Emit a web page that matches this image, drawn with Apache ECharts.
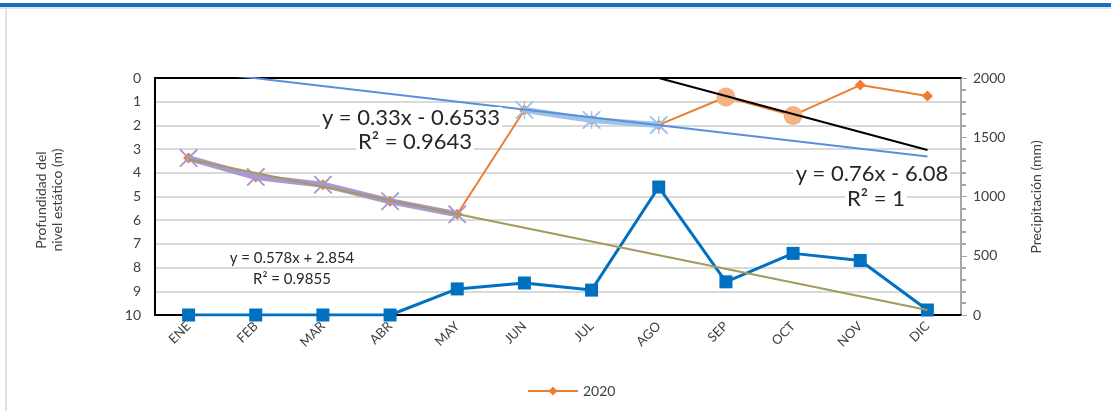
<!DOCTYPE html>
<html><head><meta charset="utf-8">
<script src="https://cdn.jsdelivr.net/npm/echarts@6/dist/echarts.min.js"></script>
<style>html,body{margin:0;padding:0;background:#fff;}#c{width:1111px;height:411px;}</style>
</head><body><div id="c"></div>
<script>
const months = ['ENE','FEB','MAR','ABR','MAY','JUN','JUL','AGO','SEP','OCT','NOV','DIC'];
const depth2020 = [3.38, 4.18, 4.5, 5.2, 5.75, 1.35, 1.77, 1.98, 0.8, 1.58, 0.3, 0.76];
const dryPart = [3.38, 4.18, 4.5, 5.2, 5.75, null, null, null, null, null, null, null];
const wetPart = [null, null, null, null, null, 1.35, 1.77, 1.98, null, null, null, null];
const latePart = [null, null, null, null, null, null, null, null, 0.8, 1.58, null, null];
const precip = [0, 0, 0, 0, 220, 270, 210, 1080, 280, 520, 460, 42];
const trendDry = [['ENE', 3.43], ['DIC', 9.79]];
const trendWet = [['ENE', -0.32], ['DIC', 3.31]];
const trendLate = [['AGO', 0.0], ['DIC', 3.04]];
const depthTicks = [0,1,2,3,4,5,6,7,8,9,10];
const precipTicks = [0,500,1000,1500,2000];

const F = 'Lato, "Open Sans", sans-serif';
const xPath = 'path://M0,0 L1.5,0 L10,8.5 L18.5,0 L20,0 L20,1.5 L11.5,10 L20,18.5 L20,20 L18.5,20 L10,11.5 L1.5,20 L0,20 L0,18.5 L8.5,10 L0,1.5 Z';
const starPath = xPath.replace(' Z', ' Z M9.3,0 L10.7,0 L10.7,20 L9.3,20 Z');
const eq = (x, y, t, fs) => ({type: 'text', x: x, y: y, z: 100,
  style: {text: t, fontSize: fs, fontFamily: F, fill: '#262626', textAlign: 'center',
    textVerticalAlign: 'middle', backgroundColor: '#fff', padding: [0, 2]}});

const chart = echarts.init(document.getElementById('c'), null, {renderer: 'canvas'});
chart.setOption({
  animation: false,
  backgroundColor: '#fff',
  textStyle: {fontFamily: F},
  grid: {left: 155, right: 150, top: 78, bottom: 96},
  legend: {
    data: ['2020'], left: 522, top: 379, itemWidth: 50, itemHeight: 11, itemGap: 5,
    textStyle: {fontFamily: F, fontSize: 14, color: '#404040'},
    itemStyle: {color: '#ed7d31'}
  },
  xAxis: [{
    type: 'category', data: months, boundaryGap: true,
    axisLine: {lineStyle: {color: '#000', width: 2}},
    axisTick: {show: false},
    axisLabel: {rotate: 45, fontSize: 13, color: '#404040', fontFamily: F, margin: 9}
  }, {
    type: 'category', data: months, position: 'top', boundaryGap: true,
    axisLine: {lineStyle: {color: '#000', width: 2}},
    axisTick: {show: false}, axisLabel: {show: false}
  }],
  yAxis: [{
    type: 'value', inverse: true, min: 0, max: 10, interval: 1,
    axisLine: {show: true, lineStyle: {color: '#000', width: 2}},
    axisTick: {show: false},
    axisLabel: {fontSize: 14, color: '#404040', fontFamily: F, margin: 14,
      formatter: v => depthTicks.includes(v) ? String(v) : ''},
    splitLine: {lineStyle: {color: '#d9d9d9', width: 2}}
  }, {
    type: 'value', min: 0, max: 2000, interval: 500, position: 'right',
    axisLine: {show: true, lineStyle: {color: '#a6a6a6', width: 2}},
    axisTick: {show: true, length: 6, inside: false, lineStyle: {color: '#a6a6a6'}},
    minorTick: {show: true, splitNumber: 5, length: 5, lineStyle: {color: '#a6a6a6', width: 2}},
    axisLabel: {fontSize: 14, color: '#404040', fontFamily: F, margin: 12,
      formatter: v => precipTicks.includes(v) ? String(v) : ''},
    splitLine: {show: false}
  }],
  series: [
    {name: 'Precipitación', type: 'line', yAxisIndex: 1, data: precip, z: 2,
      symbol: 'rect', symbolSize: 13, lineStyle: {color: '#0070c0', width: 3},
      itemStyle: {color: '#0070c0'}},
    {name: '2020', type: 'line', yAxisIndex: 0, data: depth2020, z: 3,
      symbol: 'diamond', symbolSize: 11, lineStyle: {color: '#ed7d31', width: 2},
      itemStyle: {color: '#ed7d31'}},
    {name: 'seco', type: 'line', data: dryPart, z: 4, symbol: xPath, symbolSize: 18,
      lineStyle: {color: '#a999d1', width: 6}, itemStyle: {color: '#a999d1'}},
    {name: 'lluvia', type: 'line', data: wetPart, z: 4, symbol: starPath, symbolSize: 18,
      lineStyle: {color: '#9dc3e6', width: 6}, itemStyle: {color: '#9dc3e6'}},
    {name: 'tardio', type: 'line', data: latePart, z: 4, symbol: 'circle', symbolSize: 19,
      lineStyle: {width: 0, opacity: 0}, itemStyle: {color: '#f4b183'}},
    {name: 'tend1', type: 'line', data: trendDry, z: 5, symbol: 'none', clip: true,
      lineStyle: {color: '#a39a5e', width: 2}},
    {name: 'tend2', type: 'line', data: trendWet, z: 5, symbol: 'none', clip: true,
      lineStyle: {color: '#5b8fdc', width: 2}},
    {name: 'tend3', type: 'line', data: trendLate, z: 5, symbol: 'none', clip: true,
      lineStyle: {color: '#000', width: 2}}
  ],
  graphic: [
    {type: 'rect', shape: {x: 0, y: 3, width: 1111, height: 4}, style: {fill: '#1a6fc0'}},
    {type: 'rect', shape: {x: 0, y: 7, width: 1111, height: 2}, style: {fill: '#e3e3e3'}},
    {type: 'rect', shape: {x: 5, y: 9, width: 2, height: 402}, style: {fill: '#e3e3e3'}},
    {type: 'text', x: 49, y: 200, rotation: Math.PI/2, style: {text: 'Profundidad del\nnivel estático (m)', fontSize: 14, lineHeight: 16, fontFamily: F, fill: '#404040', textAlign: 'center', textVerticalAlign: 'middle'}},
    {type: 'text', x: 1036, y: 197, rotation: Math.PI/2, style: {text: 'Precipitación (mm)', fontSize: 14, fontFamily: F, fill: '#404040', textAlign: 'center', textVerticalAlign: 'middle'}},
    eq(411, 118, 'y = 0.33x - 0.6533', 22),
    eq(415, 142, 'R² = 0.9643', 22),
    eq(872, 174, 'y = 0.76x - 6.08', 22),
    eq(876, 199, 'R² = 1', 22),
    eq(292, 258, 'y = 0.578x + 2.854', 15),
    eq(292, 279, 'R² = 0.9855', 15)
  ]
});
</script></body></html>
